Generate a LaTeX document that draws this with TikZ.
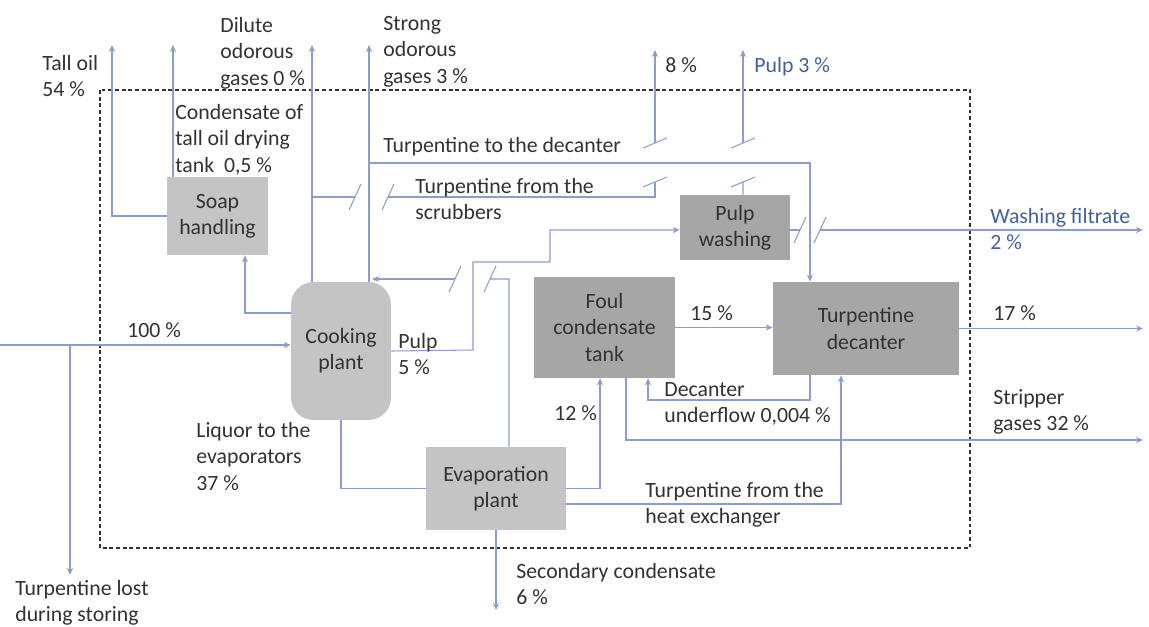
\documentclass[tikz,border=0pt]{standalone}
\usepackage{fontspec}
\setmainfont{Carlito}
\usepackage{xcolor}
\usetikzlibrary{arrows.meta}

\definecolor{flowline}{RGB}{140,156,204}
\definecolor{lightgrey}{RGB}{196,196,196}
\definecolor{darkgrey}{RGB}{166,166,166}
\definecolor{labeltext}{RGB}{50,50,50}
\definecolor{bluetext}{RGB}{70,96,152}

% line jumps
\newcommand{\hgap}[1]{\draw[flow] (#1) ++(-6,13) -- ++(12,-26);}
\newcommand{\vgap}[1]{\draw[flow] (#1) ++(-12,5) -- ++(24,-10);}

\begin{document}
\begin{tikzpicture}[x=0.02cm, y=-0.02cm,
        font=\fontsize{12.4}{15}\selectfont, text=labeltext,
        % Define block style
        block/.style={
        rectangle,
        fill=lightgrey,
        align=center,
        inner sep=0pt
        },
        note/.style={anchor=north west, inner sep=0pt, align=left},
        flow/.style={draw=flowline, line width=0.6pt},
        frame/.style={draw=black!80, line width=0.6pt, dash pattern=on 2.2pt off 1.6pt},
        >={Stealth[length=4pt,width=3.5pt]}]
        \useasboundingbox (0,0) rectangle (1149,626);

        % System boundary
        \draw[frame] (100,90) rectangle (970,548);

        % Nodes
        \node[block, minimum width=2.02cm, minimum height=1.56cm] (soap) at (217.5,216) {Soap\\handling};
        \node[block, rounded corners=0.45cm, minimum width=2cm, minimum height=2.76cm] (cook) at (341,351) {Cooking\\plant};
        \node[block, minimum width=2.8cm, minimum height=1.66cm] (evap) at (496,488.5) {Evaporation\\plant};
        \node[block, fill=darkgrey, minimum width=2.82cm, minimum height=2.02cm] (foul) at (604.5,327.5) {Foul\\condensate\\tank};
        \node[block, fill=darkgrey, minimum width=3.72cm, minimum height=1.86cm] (dec) at (866,328.5) {Turpentine\\decanter};
        \node[block, fill=darkgrey, minimum width=2.2cm, minimum height=1.3cm] (pw) at (735,227.5) {Pulp\\washing};

        % Free ends
        \coordinate (talloil) at (112,45);
        \coordinate (cond) at (173,45);
        \coordinate (dilute) at (312,45);
        \coordinate (strong) at (369,45);
        \coordinate (eight) at (655,50);
        \coordinate (pulpout) at (743,50);
        \coordinate (feed) at (0,345);
        \coordinate (lostA) at (70,345);
        \coordinate (lost) at (70,575);
        \coordinate (soapin) at (245,313);
        \coordinate (t2d) at (369,163);
        \coordinate (filtrate) at (1143,230);
        \coordinate (out17) at (1143,329);
        \coordinate (strip) at (1143,440);
        \coordinate (uf) at (648,400);
        \coordinate (seccond) at (496,610);

        % Arrows
        \draw[flow,->] (soap.west) -| (talloil);
        \draw[flow,->] (cond |- soap.north) -- (cond);
        \draw[flow,->] (dilute |- cook.north) -- (dilute);
        \draw[flow,->] (strong |- cook.north) -- (strong);
        \draw[flow,->] (feed) -- (cook.west |- feed);
        \draw[flow,->] (lostA) -- (lost);
        \draw[flow,->] (cook.west |- soapin) -- (soapin) -- (soapin |- soap.south);
        \draw[flow] (cook.south) |- (evap.west);
        \draw[flow,->] (evap.south) -- (seccond);
        \draw[flow,->] (evap.east) -| ([xshift=-0.09cm]foul.south);
        \draw[flow,->] ([yshift=-0.31cm]evap.east) -| ([xshift=-0.5cm]dec.south);
        \draw[flow,->] (foul.east) -- (dec.west |- foul.east);
        \draw[flow,->] (dec.east) -- (out17 |- dec.east);
        \draw[flow,->] ([xshift=-1.12cm]dec.south) |- (uf) -- (uf |- foul.south);
        \draw[flow,->] ([xshift=0.43cm]foul.south) |- (strip);
        \draw[flow,->] (t2d) -| ([xshift=-1.12cm]dec.north);

        % Turpentine from the scrubbers
        \draw[flow] (dilute |- 0,197) -- (355,197);
        \hgap{355,197} \hgap{388,197}
        \draw[flow] (388,197) -- (655,197) -- (655,182);
        \vgap{655,182} \vgap{655,143}
        \draw[flow,->] (655,143) -- (eight);

        % Pulp out
        \draw[flow] ([xshift=0.16cm]pw.north) -- (743,182);
        \vgap{743,182} \vgap{743,143}
        \draw[flow,->] (743,143) -- (pulpout);

        % Pulp to washing
        \draw[flow,->] (cook.east) -- (473,350) -- (473,262) -- (550,262) -- (550,230) -- (pw.west |- 0,230);

        % Evaporation plant to cooking
        \draw[flow] ([xshift=0.26cm]evap.north) -- (509,279) -- (490,279);
        \hgap{490,279} \hgap{455,279}
        \draw[flow,->] (455,279) -- (372,279);

        % Washing filtrate
        \draw[flow] (pw.east |- 0,230) -- (800,230);
        \hgap{800,230} \hgap{820,230}
        \draw[flow,->] (820,230) -- (filtrate);

        % Labels
        \node[note] (ltalloil) at (42,55) {Tall oil\\54 \%};
        \node[note] (lcond) at (175,104) {Condensate of\\tall oil drying\\tank\ \ 0,5 \%};
        \node[note] (ldilute) at (220,17) {Dilute\\odorous\\gases 0 \%};
        \node[note] (lstrong) at (383,16) {Strong\\odorous\\gases 3 \%};
        \node[note] (lt2d) at (383,137) {Turpentine to the decanter};
        \node[note] (lscrub) at (415,178) {Turpentine from the\\scrubbers};
        \node[note] (leight) at (665,57) {8 \%};
        \node[note, text=bluetext] (lpulp3) at (754,57) {Pulp 3 \%};
        \node[note, text=bluetext] (lfiltrate) at (990,208) {Washing filtrate\\2 \%};
        \node[note] (lfeed) at (127,322) {100 \%};
        \node[note] (lpulp5) at (398,333) {Pulp\\5 \%};
        \node[note] (lliquor) at (196,422) {Liquor to the\\evaporators\\37 \%};
        \node[note] (llost) at (15,580) {Turpentine lost\\during storing};
        \node[note] (lsec) at (516,563) {Secondary condensate\\6 \%};
        \node[note] (ltwelve) at (554,405) {12 \%};
        \node[note] (lfifteen) at (690,305) {15 \%};
        \node[note] (lseventeen) at (993,305) {17 \%};
        \node[note] (luf) at (664,382) {Decanter\\underflow 0,004 \%};
        \node[note] (lstrip) at (993,389) {Stripper\\gases 32 \%};
        \node[note] (lheat) at (645,482) {Turpentine from the\\heat exchanger};
    \end{tikzpicture}
\end{document}
